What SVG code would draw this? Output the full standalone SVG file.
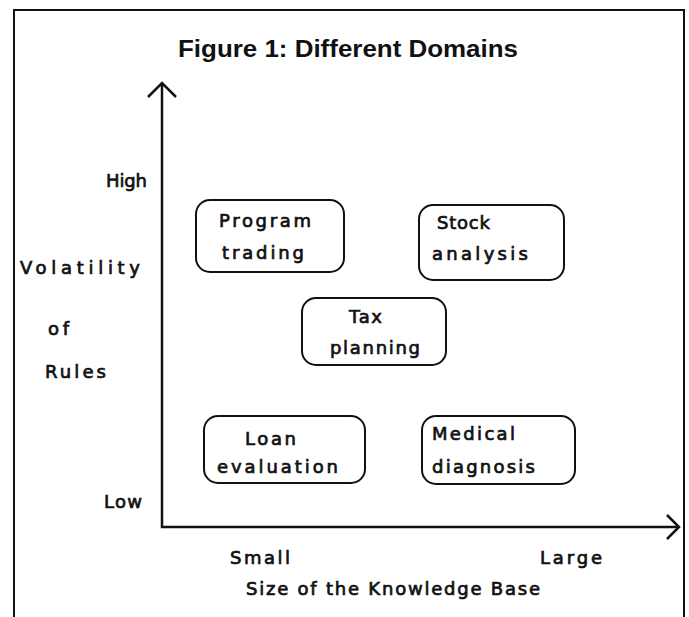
<svg xmlns="http://www.w3.org/2000/svg" width="689" height="617" viewBox="0 0 689 617">
<style>
.t{font-family:"DejaVu Sans","Liberation Sans",sans-serif;font-size:18px;fill:#111;stroke:#111;stroke-width:0.7;}
.box{fill:#fff;stroke:#111;stroke-width:2;}
.ax{fill:none;stroke:#111;stroke-width:2.5;}
</style>
<rect width="689" height="617" fill="#fff"/>
<path d="M14,620 V10 H684 V620" fill="none" stroke="#111" stroke-width="2"/>
<text x="348" y="57" text-anchor="middle" font-family="Liberation Sans, Arial, sans-serif" font-weight="bold" font-size="23" textLength="340" lengthAdjust="spacingAndGlyphs" fill="#111">Figure 1: Different Domains</text>
<g id="axes">
<path class="ax" d="M162,84 V527 H678"/>
<path class="ax" d="M148,97 L162,83 L176,97"/>
<path class="ax" d="M667,515 L679,527 L667,539"/>
</g>
<g id="labels">
<text class="t" x="106" y="187" textLength="41">High</text>
<text class="t" x="20" y="274" textLength="120">Volatility</text>
<text class="t" x="48" y="335" textLength="21">of</text>
<text class="t" x="45" y="378" textLength="61">Rules</text>
<text class="t" x="104" y="508" textLength="38">Low</text>
<text class="t" x="230" y="564" textLength="60">Small</text>
<text class="t" x="540" y="564" textLength="62">Large</text>
<text class="t" x="246" y="595" textLength="294">Size of the Knowledge Base</text>
</g>
<g id="program-trading">
<rect class="box" x="196" y="200" width="148" height="72" rx="14"/>
<text class="t" x="219" y="227" textLength="92">Program</text>
<text class="t" x="222" y="259" textLength="82">trading</text>
</g>
<g id="stock-analysis">
<rect class="box" x="419" y="205" width="145" height="75" rx="14"/>
<text class="t" x="437" y="229" textLength="53">Stock</text>
<text class="t" x="432" y="260" textLength="96">analysis</text>
</g>
<g id="tax-planning">
<rect class="box" x="302" y="298" width="144" height="67" rx="14"/>
<text class="t" x="349" y="323" textLength="33">Tax</text>
<text class="t" x="330" y="354" textLength="90">planning</text>
</g>
<g id="loan-evaluation">
<rect class="box" x="204" y="416" width="161" height="67" rx="14"/>
<text class="t" x="245" y="445" textLength="51">Loan</text>
<text class="t" x="217" y="473" textLength="121">evaluation</text>
</g>
<g id="medical-diagnosis">
<rect class="box" x="422" y="416" width="153" height="68" rx="14"/>
<text class="t" x="432" y="440" textLength="83">Medical</text>
<text class="t" x="432" y="473" textLength="103">diagnosis</text>
</g>
</svg>
